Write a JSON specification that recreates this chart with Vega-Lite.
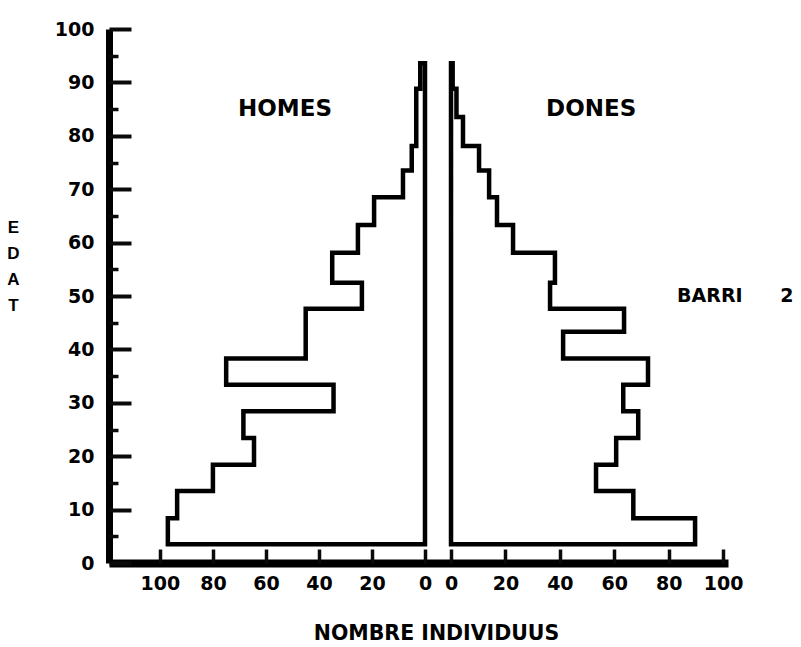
{
  "$schema": "https://vega.github.io/schema/vega-lite/v6.json",
  "width": 619,
  "height": 534,
  "autosize": {"type": "none"},
  "padding": {"left": 109, "top": 29, "right": 73, "bottom": 84},
  "background": "white",
  "config": {
    "view": {"stroke": null},
    "axis": {
      "grid": false,
      "domainColor": "black",
      "labelColor": "black",
      "titleColor": "black",
      "labelFont": "DejaVu Sans",
      "labelFontWeight": "bold",
      "labelFontSize": 19,
      "labelOverlap": false,
      "labelFlush": false
    }
  },
  "datasets": {
    "homes": [
      {"ordre": 0, "edat": 3.5, "n": 0},
      {"ordre": 1, "edat": 3.5, "n": 97},
      {"ordre": 2, "edat": 8.4, "n": 93.5},
      {"ordre": 3, "edat": 13.5, "n": 80},
      {"ordre": 4, "edat": 18.4, "n": 64.5},
      {"ordre": 5, "edat": 23.4, "n": 68.5},
      {"ordre": 6, "edat": 28.4, "n": 34.5},
      {"ordre": 7, "edat": 33.4, "n": 75},
      {"ordre": 8, "edat": 38.3, "n": 45},
      {"ordre": 9, "edat": 43.3, "n": 45},
      {"ordre": 10, "edat": 47.6, "n": 23.8},
      {"ordre": 11, "edat": 52.5, "n": 35},
      {"ordre": 12, "edat": 58.1, "n": 25.3},
      {"ordre": 13, "edat": 63.3, "n": 19.2},
      {"ordre": 14, "edat": 68.5, "n": 8.3},
      {"ordre": 15, "edat": 73.5, "n": 5},
      {"ordre": 16, "edat": 78.1, "n": 3.3},
      {"ordre": 17, "edat": 83.5, "n": 3.3},
      {"ordre": 18, "edat": 88.8, "n": 1.8},
      {"ordre": 19, "edat": 93.6, "n": 0},
      {"ordre": 20, "edat": 3.5, "n": 0}
    ],
    "dones": [
      {"ordre": 0, "edat": 3.5, "n": 0},
      {"ordre": 1, "edat": 3.5, "n": 89.7},
      {"ordre": 2, "edat": 8.4, "n": 67},
      {"ordre": 3, "edat": 13.5, "n": 53.3},
      {"ordre": 4, "edat": 18.4, "n": 60.7},
      {"ordre": 5, "edat": 23.4, "n": 68.8},
      {"ordre": 6, "edat": 28.4, "n": 63.3},
      {"ordre": 7, "edat": 33.4, "n": 72.4},
      {"ordre": 8, "edat": 38.3, "n": 41.2},
      {"ordre": 9, "edat": 43.3, "n": 63.6},
      {"ordre": 10, "edat": 47.6, "n": 36.4},
      {"ordre": 11, "edat": 52.5, "n": 38.2},
      {"ordre": 12, "edat": 58.1, "n": 22.8},
      {"ordre": 13, "edat": 63.3, "n": 16.9},
      {"ordre": 14, "edat": 68.5, "n": 14},
      {"ordre": 15, "edat": 73.5, "n": 10.3},
      {"ordre": 16, "edat": 78.1, "n": 4.4},
      {"ordre": 17, "edat": 83.5, "n": 2},
      {"ordre": 18, "edat": 88.8, "n": 0.6},
      {"ordre": 19, "edat": 93.6, "n": 0},
      {"ordre": 20, "edat": 3.5, "n": 0}
    ],
    "rotols": [
      {"costat": "HOMES", "grup": "sexe", "text": "HOMES", "n": 52.8, "edat": 85},
      {"costat": "DONES", "grup": "sexe", "text": "DONES", "n": 51.5, "edat": 85},
      {"costat": "DONES", "grup": "barri", "text": "BARRI", "n": 83.1, "edat": 50},
      {"costat": "DONES", "grup": "barri", "text": "2", "n": 121, "edat": 50}
    ]
  },
  "layer": [
    {
      "data": {"name": "homes"},
      "mark": {"type": "line", "interpolate": "step-before", "stroke": "black", "strokeWidth": 4.5, "strokeJoin": "miter", "strokeCap": "square"},
      "encoding": {
        "x": {
          "field": "n", "type": "quantitative",
          "scale": {"domain": [-114.3, 119.2], "reverse": true, "nice": false, "zero": false},
          "axis": {
            "orient": "bottom",
            "values": [0, 20, 40, 60, 80, 100],
            "ticks": false,
            "tickSize": 0,
            "domainWidth": 8,
            "labelPadding": 11,
            "title": "NOMBRE INDIVIDUUS",
            "titleX": 327,
            "titleY": 70,
            "titleAlign": "center",
            "titleBaseline": "middle",
            "titleFont": "DejaVu Sans",
            "titleFontSize": 20.5,
            "titleFontWeight": "bold"
          }
        },
        "y": {
          "field": "edat", "type": "quantitative",
          "scale": {"domain": [0, 100], "nice": false, "zero": false},
          "axis": {
            "orient": "left",
            "values": [0, 10, 20, 30, 40, 50, 60, 70, 80, 90, 100],
            "ticks": false,
            "tickSize": 0,
            "domainWidth": 7,
            "labelPadding": 15,
            "title": ["E", "D", "A", "T"],
            "titleAngle": 0,
            "titleX": -96,
            "titleY": 198,
            "titleAlign": "center",
            "titleBaseline": "middle",
            "titleLineHeight": 26,
            "titleFont": "Liberation Sans",
            "titleFontSize": 17,
            "titleFontWeight": "bold"
          }
        },
        "order": {"field": "ordre", "type": "quantitative"}
      }
    },
    {
      "data": {"name": "dones"},
      "mark": {"type": "line", "interpolate": "step-before", "stroke": "black", "strokeWidth": 4.5, "strokeJoin": "miter", "strokeCap": "square"},
      "encoding": {
        "x": {
          "field": "n", "type": "quantitative",
          "scale": {"domain": [-125.7, 101.8], "nice": false, "zero": false},
          "axis": {
            "orient": "bottom",
            "values": [0, 20, 40, 60, 80, 100],
            "ticks": false,
            "tickSize": 0,
            "domain": false,
            "labelPadding": 11,
            "title": null
          }
        },
        "y": {
          "field": "edat", "type": "quantitative",
          "axis": {
            "orient": "right",
            "offset": -619,
            "values": [0, 10, 20, 30, 40, 50, 60, 70, 80, 90, 100],
            "ticks": true,
            "tickColor": "#0a0a0a",
            "tickSize": 22,
            "tickWidth": 4,
            "labels": false,
            "domain": false,
            "title": null
          }
        },
        "order": {"field": "ordre", "type": "quantitative"}
      }
    },
    {
      "data": {"name": "rotols"},
      "transform": [{"filter": "datum.costat == 'HOMES'"}],
      "mark": {"type": "text", "font": "DejaVu Sans", "fontWeight": "bold", "fontSize": 23, "align": "center", "baseline": "middle", "color": "black"},
      "encoding": {
        "x": {
          "field": "n", "type": "quantitative",
          "scale": {"domain": [-114.3, 119.2], "reverse": true, "nice": false, "zero": false},
          "axis": {
            "orient": "top",
            "offset": -534,
            "values": [0, 20, 40, 60, 80, 100],
            "ticks": true,
            "tickColor": "#0a0a0a",
            "tickSize": 14,
            "tickWidth": 3.5,
            "labels": false,
            "domain": false,
            "title": null
          }
        },
        "y": {
          "field": "edat", "type": "quantitative",
          "axis": {
            "orient": "right",
            "offset": -619,
            "values": [5, 15, 25, 35, 45, 55, 65, 75, 85, 95],
            "ticks": true,
            "tickColor": "#0a0a0a",
            "tickSize": 9,
            "tickWidth": 3.5,
            "labels": false,
            "domain": false,
            "title": null
          }
        },
        "text": {"field": "text"}
      }
    },
    {
      "data": {"name": "rotols"},
      "transform": [{"filter": "datum.costat == 'DONES' && datum.grup == 'sexe'"}],
      "mark": {"type": "text", "font": "DejaVu Sans", "fontWeight": "bold", "fontSize": 23, "align": "center", "baseline": "middle", "color": "black"},
      "encoding": {
        "x": {
          "field": "n", "type": "quantitative",
          "scale": {"domain": [-125.7, 101.8], "nice": false, "zero": false},
          "axis": {
            "orient": "top",
            "offset": -534,
            "values": [0, 20, 40, 60, 80, 100],
            "ticks": true,
            "tickColor": "#0a0a0a",
            "tickSize": 14,
            "tickWidth": 3.5,
            "labels": false,
            "domain": false,
            "title": null
          }
        },
        "y": {"field": "edat", "type": "quantitative", "axis": null},
        "text": {"field": "text"}
      }
    },
    {
      "data": {"name": "rotols"},
      "transform": [{"filter": "datum.grup == 'barri'"}],
      "mark": {"type": "text", "font": "DejaVu Sans", "fontWeight": "bold", "fontSize": 19, "align": "left", "baseline": "middle", "color": "black"},
      "encoding": {
        "x": {"field": "n", "type": "quantitative", "scale": {"domain": [-125.7, 101.8], "nice": false, "zero": false}, "axis": null},
        "y": {"field": "edat", "type": "quantitative", "axis": null},
        "text": {"field": "text"}
      }
    }
  ],
  "resolve": {"scale": {"x": "independent"}, "axis": {"x": "independent", "y": "independent"}}
}
